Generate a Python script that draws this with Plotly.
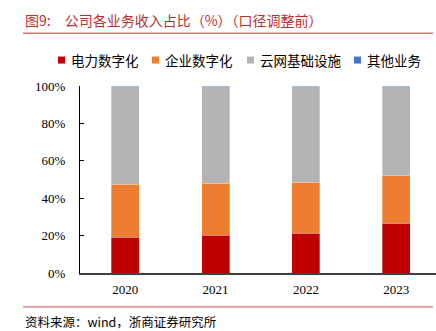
import plotly.graph_objects as go

years = ["2020", "2021", "2022", "2023"]
series_names = ["电力数字化", "企业数字化", "云网基础设施", "其他业务"]
power_digital = [19.2, 20.3, 21.3, 26.7]
enterprise_digital = [28.3, 27.7, 27.3, 25.4]
cloud_infra = [52.2, 51.7, 51.1, 47.6]
other_biz = [0.3, 0.3, 0.3, 0.3]
colors = ["#C00000", "#ED7D31", "#B3B3B3", "#4472C4"]

title_text = "图9:　公司各业务收入占比（%）（口径调整前）"
source_text = "资料来源：wind，浙商证券研究所"

CJK = "Noto Sans CJK SC"
SERIF = "Liberation Serif"

fig = go.Figure()
for name, vals, col in zip(series_names,
                           [power_digital, enterprise_digital, cloud_infra, other_biz],
                           colors):
    fig.add_trace(go.Bar(
        x=years, y=vals, name=name, marker_color=col,
        marker_line=dict(color="rgba(255,255,255,0.5)", width=0.6),
        showlegend=False,
    ))

W, H = 436, 331
ml, mr, mt, mb = 80, 0, 85.5, 58

fig.update_layout(
    width=W, height=H, barmode="stack", bargap=0.69,
    margin=dict(l=ml, r=mr, t=mt, b=mb),
    paper_bgcolor="white", plot_bgcolor="white",
    font=dict(family=SERIF, size=13, color="#000000"),
    xaxis=dict(type="category", range=[-0.5, 3.44], showline=True,
               linecolor="#404040", linewidth=1.5, ticks="", showgrid=False,
               tickfont=dict(family=SERIF, size=13), ticklabelstandoff=4),
    yaxis=dict(range=[0, 100], dtick=20, ticksuffix="%", showline=True,
               linecolor="#000000", linewidth=1, ticks="inside", ticklen=4,
               tickcolor="#000000", showgrid=False, zeroline=False,
               tickfont=dict(family=SERIF, size=13), ticklabelstandoff=11),
)

def px_x(px):
    return (px - ml) / (W - ml - mr)

def px_y(py):
    return (H - mb - py) / (H - mt - mb)

# Title and rules
fig.add_annotation(text=title_text, xref="paper", yref="paper",
                   x=px_x(23), y=px_y(19), xanchor="left", yanchor="middle",
                   showarrow=False, font=dict(family=CJK, size=14, color="#B8312F"))
fig.add_shape(type="line", xref="paper", yref="paper",
              x0=px_x(23), x1=px_x(433), y0=px_y(32.5), y1=px_y(32.5),
              line=dict(color="#E07070", width=1.5))
fig.add_shape(type="line", xref="paper", yref="paper",
              x0=px_x(23), x1=px_x(433), y0=px_y(307), y1=px_y(307),
              line=dict(color="#E07070", width=1.2))
fig.add_annotation(text=source_text, xref="paper", yref="paper",
                   x=px_x(23), y=px_y(322), xanchor="left", yanchor="middle",
                   showarrow=False, font=dict(family=CJK, size=12.5, color="#000000"))

# Manual legend
leg_sq_x = [58, 152, 247, 354]
for name, col, sx in zip(series_names, colors, leg_sq_x):
    fig.add_shape(type="rect", xref="paper", yref="paper",
                  x0=px_x(sx), x1=px_x(sx + 7), y0=px_y(56), y1=px_y(63),
                  fillcolor=col, line=dict(width=0))
    fig.add_annotation(text=name, xref="paper", yref="paper",
                       x=px_x(sx + 11), y=px_y(59.5), xanchor="left", yanchor="middle",
                       showarrow=False, font=dict(family=CJK, size=13.5, color="#000000"))

fig.write_html("out.html")
